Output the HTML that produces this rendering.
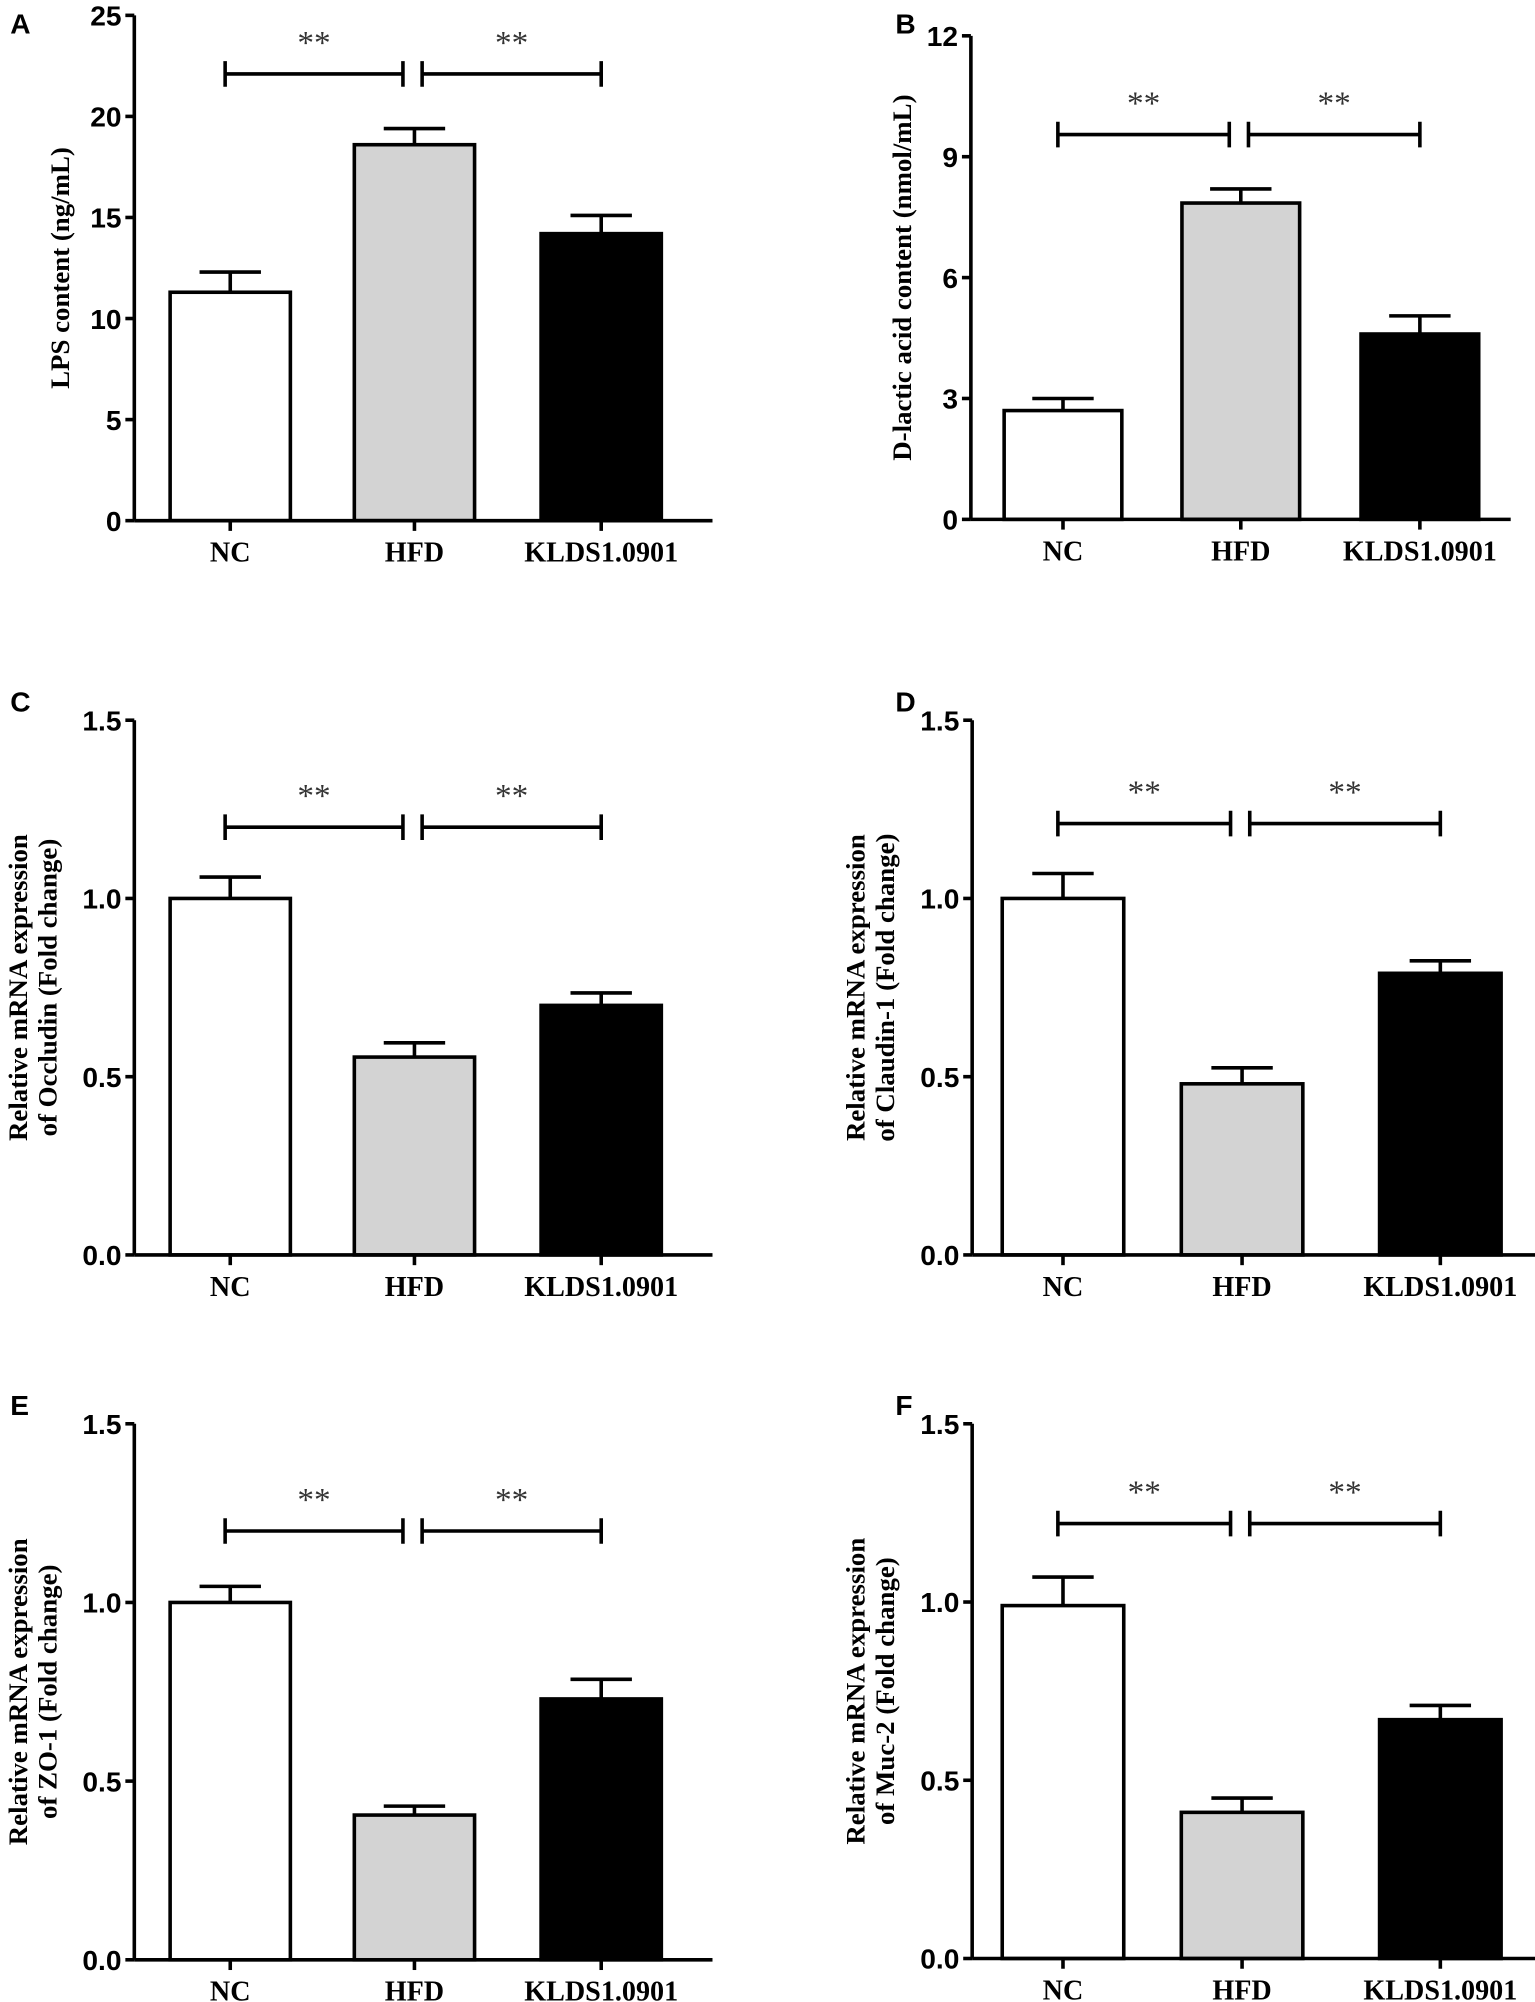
<!DOCTYPE html>
<html><head><meta charset="utf-8"><style>
html,body{margin:0;padding:0;background:#fff;}
svg{display:block;}
.tk{font-family:"Liberation Sans",Arial,sans-serif;font-weight:bold;font-size:22px;}
.cat{font-family:"Liberation Serif",serif;font-weight:bold;font-size:22px;}
.yt{font-family:"Liberation Serif",serif;font-weight:bold;font-size:21px;}
.pl{font-family:"Liberation Sans",Arial,sans-serif;font-weight:bold;font-size:22px;}
.st{font-family:"Liberation Serif",serif;font-size:26px;fill:#333;}
</style></head><body>
<svg id="fig" width="1535" height="2002" viewBox="0 0 1200 1565" preserveAspectRatio="none" xmlns="http://www.w3.org/2000/svg"></svg>
<script>
const categories = ["NC", "HFD", "KLDS1.0901"];
const valuesA = [11.3, 18.6, 14.2];
const errorsA = [1.0, 0.8, 0.9];
const valuesB = [2.7, 7.85, 4.6];
const errorsB = [0.3, 0.35, 0.45];
const valuesC = [1.0, 0.555, 0.70];
const errorsC = [0.06, 0.04, 0.035];
const valuesD = [1.0, 0.48, 0.79];
const errorsD = [0.07, 0.045, 0.035];
const valuesE = [1.0, 0.405, 0.73];
const errorsE = [0.045, 0.025, 0.055];
const valuesF = [0.99, 0.41, 0.67];
const errorsF = [0.08, 0.04, 0.04];
const ticksA = [0, 5, 10, 15, 20, 25];
const ticksB = [0, 3, 6, 9, 12];
const ticksFold = [0.0, 0.5, 1.0, 1.5];
const bracketA = 22.1, bracketB = 9.55, bracketC = 1.2, bracketD = 1.21, bracketE = 1.2, bracketF = 1.22;

const NS = "http://www.w3.org/2000/svg";
const svg = document.getElementById("fig");
function mk(tag, attrs, parent, txt) {
  const e = document.createElementNS(NS, tag);
  for (const k in attrs) e.setAttribute(k, attrs[k]);
  if (txt !== undefined) e.textContent = txt;
  (parent || svg).appendChild(e);
  return e;
}
const fills = ["#ffffff", "#d3d3d3", "#000000"];

function panel(o) {
  const g = mk("g", {});
  
  
  const tmin = o.ticks[0], tmax = o.ticks[o.ticks.length - 1];
  const y = v => o.y0 - (v - tmin) / (tmax - tmin) * (o.y0 - o.yTop);
  const x = i => o.centers[i];
  const lbl = mk("text", {x: o.lx, y: o.ly, class: "pl"}, g, o.id);
  
  
  for (let i = 0; i < categories.length; i++) {
    const v = o.values[i], e = o.errors[i];
    const eb = mk("path", {d: `M${x(i)} ${y(v)} V${y(v + e)} M${x(i) - 24} ${y(v + e)} H${x(i) + 24}`, stroke: "#000", "stroke-width": 2.8, fill: "none"}, g);
    
    
    const r = mk("rect", {x: x(i) - o.bw / 2, y: y(v), width: o.bw, height: y(tmin) - y(v), fill: fills[i], stroke: "#000", "stroke-width": 2.8}, g);
    
    
  }
  const ya = mk("path", {d: `M${o.ax} ${o.yTop} V${o.y0}`, stroke: "#000", "stroke-width": 2.8, fill: "none"}, g);
  
  
  o.ticks.forEach(t => {
    mk("path", {d: `M${o.ax - 7} ${y(t)} H${o.ax}`, stroke: "#000", "stroke-width": 2.8}, g);
    const tl = mk("text", {x: o.ax - 10, y: y(t) + 8, class: "tk", "text-anchor": "end"}, g, o.fmt(t));
    
    
  });
  const xa = mk("path", {d: `M${o.ax} ${o.y0} H${o.xEnd}`, stroke: "#000", "stroke-width": 2.8, fill: "none"}, g);
  
  
  categories.forEach((c, i) => {
    mk("path", {d: `M${x(i)} ${o.y0} V${o.y0 + 8}`, stroke: "#000", "stroke-width": 2.8}, g);
    const cl = mk("text", {x: x(i), y: o.y0 + 32, class: "cat", "text-anchor": "middle"}, g, c);
    
    
  });
  const cy = (o.yTop + o.y0) / 2;
  o.title.forEach((t, k) => {
    const tx = o.tx + k * 23;
    const yt = mk("text", {x: tx, y: cy, class: "yt", "text-anchor": "middle", transform: `rotate(-90 ${tx} ${cy})`}, g, t);
    
    
  });
  const by = y(o.bracket);
  [[0, 1], [1, 2]].forEach(([a, b], k) => {
    const x1 = x(a) - 4 + (k ? 10 : 0), x2 = x(b) - (k ? 0 : 9);
    const br = mk("path", {d: `M${x1} ${by - 10} V${by + 10} M${x1} ${by} H${x2} M${x2} ${by - 10} V${by + 10}`, stroke: "#000", "stroke-width": 2.8, fill: "none"}, g);
    
    
    const s = mk("text", {x: (x1 + x2) / 2, y: by - 16, class: "st", "text-anchor": "middle"}, g, "**");
    
    
  });
}
const f0 = t => String(t), f1 = t => t.toFixed(1);
const Lc = [180, 324, 470], Rc = [831, 971, 1126];
panel({id: "A", values: valuesA, errors: errorsA, ticks: ticksA, fmt: f0, ax: 105, yTop: 12, y0: 407, xEnd: 557, centers: Lc, bw: 94, lx: 8, ly: 26, tx: 54, title: ["LPS content (ng/mL)"], bracket: bracketA});
panel({id: "B", values: valuesB, errors: errorsB, ticks: ticksB, fmt: f0, ax: 759, yTop: 28, y0: 406, xEnd: 1181, centers: [831, 970, 1110], bw: 92, lx: 700, ly: 26, tx: 712, title: ["D-lactic acid content (nmol/mL)"], bracket: bracketB});
panel({id: "C", values: valuesC, errors: errorsC, ticks: ticksFold, fmt: f1, ax: 105, yTop: 563, y0: 981, xEnd: 557, centers: Lc, bw: 94, lx: 8, ly: 556, tx: 21, title: ["Relative mRNA expression", "of Occludin (Fold change)"], bracket: bracketC});
panel({id: "D", values: valuesD, errors: errorsD, ticks: ticksFold, fmt: f1, ax: 760, yTop: 563, y0: 981, xEnd: 1200, centers: Rc, bw: 95, lx: 700, ly: 556, tx: 676, title: ["Relative mRNA expression", "of Claudin-1 (Fold change)"], bracket: bracketD});
panel({id: "E", values: valuesE, errors: errorsE, ticks: ticksFold, fmt: f1, ax: 105, yTop: 1113, y0: 1532, xEnd: 557, centers: Lc, bw: 94, lx: 8, ly: 1106, tx: 21, title: ["Relative mRNA expression", "of ZO-1 (Fold change)"], bracket: bracketE});
panel({id: "F", values: valuesF, errors: errorsF, ticks: ticksFold, fmt: f1, ax: 760, yTop: 1113, y0: 1531, xEnd: 1200, centers: Rc, bw: 95, lx: 700, ly: 1106, tx: 676, title: ["Relative mRNA expression", "of Muc-2 (Fold change)"], bracket: bracketF});
</script>
</body></html>
